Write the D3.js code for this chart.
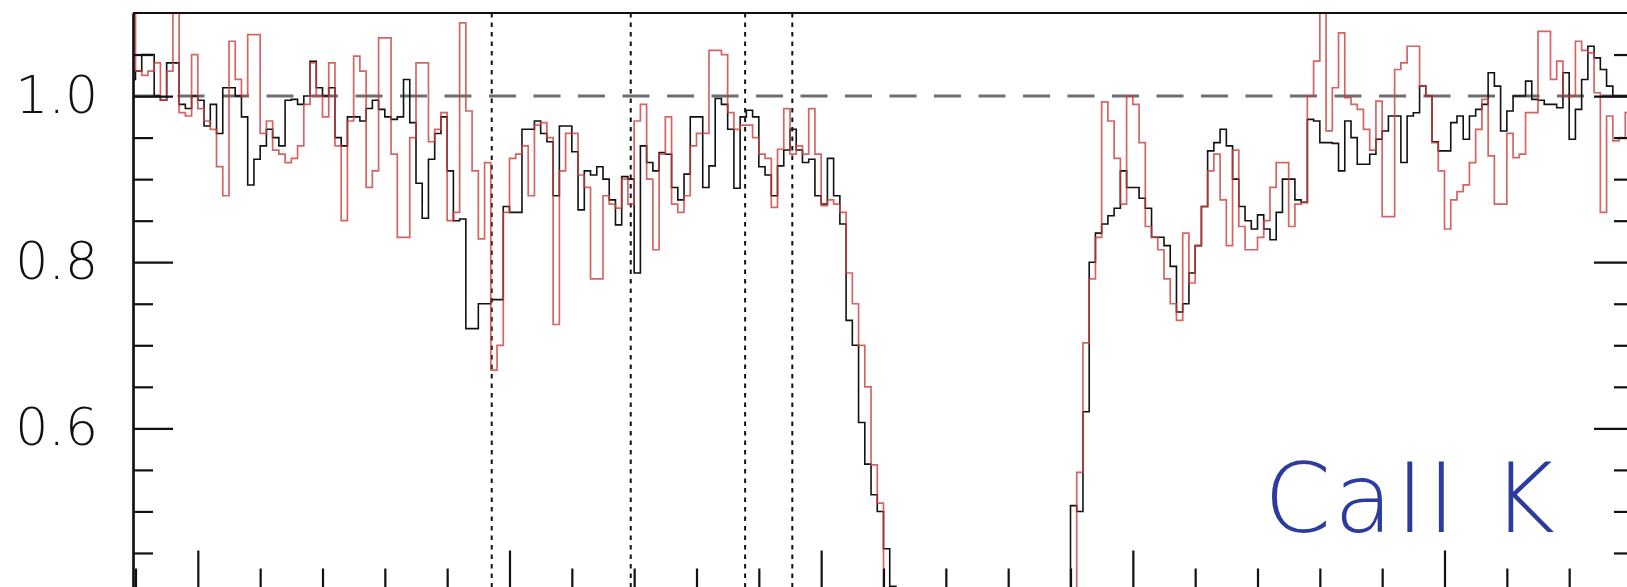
<!DOCTYPE html>
<html>
<head>
<meta charset="utf-8">
<script src="https://cdn.jsdelivr.net/npm/d3@7"></script>
<style>
  body { margin: 0; background: #fff; }
  svg { display: block; }
</style>
</head>
<body>
<div id="chart"></div>
<script>
// Ca II K profile, two step spectra (black / red), normalised flux
// bins start at x = -1.1, width 0.1 (arbitrary units, 1 unit per minor tick)
const BIN_START = -1.1
const BIN_WIDTH = 0.1

const blackFlux = [
  1.02, 1.03, 1.05, 1.05, 1.0, 0.995, 1.04, 1.04, 0.99, 0.985,            // 0-9
  1.0, 0.995, 0.964, 0.99, 0.955, 1.01, 1.01, 1.0, 0.975, 0.893,          // 10-19
  0.924, 0.94, 0.96, 0.95, 0.94, 0.995, 0.996, 0.99, 1.0, 1.042,          // 20-29
  1.01, 1.0, 1.01, 0.95, 0.94, 0.975, 0.975, 0.97, 0.985, 0.995,          // 30-39
  0.984, 0.975, 0.972, 0.975, 1.02, 0.968, 0.895, 0.853, 0.924, 0.955,    // 40-49
  0.975, 0.91, 0.85, 0.852, 0.72, 0.72, 0.75, 0.75, 0.755, 0.755,         // 50-59
  0.867, 0.86, 0.86, 0.96, 0.96, 0.97, 0.955, 0.945, 0.88, 0.964,         // 60-69
  0.964, 0.933, 0.863, 0.91, 0.905, 0.915, 0.9, 0.875, 0.845, 0.903,      // 70-79
  0.90, 0.787, 0.94, 0.92, 0.91, 0.932, 0.93, 0.89, 0.875, 0.906,         // 80-89
  0.975, 0.975, 0.89, 0.916, 0.997, 0.99, 0.96, 0.889, 0.975, 0.983,      // 90-99
  0.975, 0.915, 0.905, 0.88, 0.916, 0.935, 0.96, 0.935, 0.92, 0.924,      // 100-109
  0.88, 0.87, 0.925, 0.88, 0.846, 0.73, 0.70, 0.607, 0.557, 0.52,         // 110-119
  0.50, 0.455, 0.41, 0.36, 0.33, 0.31, 0.30, 0.29, 0.30, 0.28,            // 120-129
  0.29, 0.30, 0.31, 0.29, 0.28, 0.30, 0.29, 0.30, 0.31, 0.29,             // 130-139
  0.30, 0.28, 0.29, 0.30, 0.30, 0.31, 0.32, 0.33, 0.35, 0.37,             // 140-149
  0.39, 0.507, 0.50, 0.62, 0.80, 0.835, 0.846, 0.856, 0.865, 0.91,        // 150-159
  0.89, 0.89, 0.877, 0.865, 0.83, 0.83, 0.82, 0.795, 0.74, 0.75,          // 160-169
  0.787, 0.82, 0.867, 0.934, 0.944, 0.96, 0.94, 0.90, 0.867, 0.85,        // 170-179
  0.84, 0.857, 0.84, 0.827, 0.86, 0.90, 0.90, 0.875, 0.872, 0.972,        // 180-189
  0.97, 0.944, 0.944, 0.943, 0.91, 0.97, 0.95, 0.918, 0.918, 0.93,        // 190-199
  0.948, 0.958, 0.976, 0.976, 0.92, 0.976, 0.98, 1.012, 1.0, 0.945,       // 200-209
  0.934, 0.934, 0.968, 0.976, 0.948, 0.976, 0.984, 0.99, 1.028, 1.012,    // 210-219
  0.958, 0.982, 1.0, 1.0, 1.018, 0.996, 0.995, 0.99, 0.99, 0.986,         // 220-229
  1.028, 0.948, 0.984, 1.02, 1.06, 1.046, 1.032, 1.012, 1.0, 1.0,         // 230-239
  1.0, 1.0                                                                // 240-241
]

const redFlux = [
  1.10, 1.03, 1.025, 1.03, 1.04, 0.995, 1.03, 1.10, 0.98, 0.976,          // 0-9
  1.05, 0.985, 0.97, 0.96, 0.915, 0.88, 1.066, 1.02, 1.0, 1.074,          // 10-19
  1.074, 0.955, 0.97, 0.935, 0.93, 0.92, 0.925, 0.94, 0.99, 1.04,         // 20-29
  1.0, 0.975, 1.04, 0.94, 0.85, 0.97, 1.048, 1.03, 0.89, 0.91,            // 30-39
  1.07, 1.07, 0.93, 0.83, 0.83, 0.95, 1.04, 1.04, 0.945, 0.96,            // 40-49
  0.98, 0.85, 0.86, 1.088, 0.982, 0.91, 0.828, 0.92, 0.67, 0.70,          // 50-59
  0.86, 0.925, 0.93, 0.94, 0.88, 0.965, 0.968, 0.95, 0.725, 0.91,         // 60-69
  0.955, 0.955, 0.905, 0.89, 0.78, 0.78, 0.88, 0.87, 0.865, 0.90,         // 70-79
  0.87, 0.97, 0.99, 0.90, 0.815, 0.93, 0.975, 0.87, 0.86, 0.88,           // 80-89
  0.94, 0.955, 0.955, 1.055, 1.055, 1.05, 0.98, 0.96, 0.965, 0.965,       // 90-99
  0.95, 0.93, 0.925, 0.866, 0.936, 0.985, 0.93, 0.94, 0.93, 0.985,        // 100-109
  0.93, 0.868, 0.875, 0.87, 0.86, 0.787, 0.75, 0.70, 0.65, 0.556,         // 110-119
  0.51, 0.38, 0.34, 0.31, 0.30, 0.29, 0.30, 0.28, 0.29, 0.30,             // 120-129
  0.31, 0.29, 0.28, 0.30, 0.29, 0.30, 0.31, 0.29, 0.30, 0.28,             // 130-139
  0.29, 0.30, 0.30, 0.31, 0.32, 0.30, 0.29, 0.31, 0.33, 0.34,             // 140-149
  0.36, 0.38, 0.547, 0.703, 0.78, 0.83, 0.993, 0.97, 0.925, 0.87,         // 150-159
  1.0, 0.99, 0.944, 0.843, 0.83, 0.815, 0.78, 0.75, 0.73, 0.835,          // 160-169
  0.775, 0.82, 0.867, 0.91, 0.93, 0.875, 0.82, 0.935, 0.843, 0.815,       // 170-179
  0.815, 0.83, 0.85, 0.89, 0.92, 0.92, 0.843, 0.87, 0.872, 1.0,           // 180-189
  1.042, 1.10, 0.958, 1.01, 1.076, 0.998, 0.99, 0.984, 0.96, 0.935,       // 190-199
  0.994, 0.855, 0.855, 1.032, 1.04, 1.06, 1.06, 1.012, 1.0, 0.944,        // 200-209
  0.91, 0.84, 0.875, 0.885, 0.893, 0.92, 0.96, 0.996, 0.928, 0.87,        // 210-219
  0.87, 0.955, 0.926, 0.93, 0.98, 0.98, 1.078, 1.078, 1.02, 1.042,        // 220-229
  1.0, 1.0, 1.066, 1.055, 1.052, 1.004, 0.86, 0.976, 0.946, 0.95,         // 230-239
  0.98, 0.98                                                              // 240-241
]

// axis ticks and reference lines
const xMajorTicks = [0, 5, 10, 15, 20]
const xMinorTicks = [-1, 1, 2, 3, 4, 6, 7, 8, 9, 11, 12, 13, 14, 16, 17, 18, 19, 21, 22, 23]
const yMajorTicks = [0.4, 0.6, 0.8, 1.0]
const yMinorTicks = [0.45, 0.5, 0.55, 0.65, 0.7, 0.75, 0.85, 0.9, 0.95, 1.05]
const yLabelTicks = [0.6, 0.8, 1.0]
const yTickLabels = ["0.6", "0.8", "1.0"]
const markerLines = [4.715, 6.945, 8.78, 9.537]
const continuum = 1.0
const label = "CaII K"

// chart geometry (plot extends past the right and bottom edge of the picture)
const WIDTH = 1627
const HEIGHT = 587
const PLOT = {LEFT:133, RIGHT:1634, TOP:13, BOTTOM:594.5}

const svg = d3.select("#chart").append("svg")
    .attr("width", WIDTH)
    .attr("height", HEIGHT)

const xScale = d3.scaleLinear()
    .domain([-1.04, 23.04])
    .range([PLOT.LEFT, PLOT.RIGHT])

const yScale = d3.scaleLinear()
    .domain([0.4, 1.1])
    .range([PLOT.BOTTOM, PLOT.TOP])

// clip the spectra to the frame
svg.append("clipPath").attr("id", "plotclip")
  .append("rect")
    .attr("x", PLOT.LEFT)
    .attr("y", PLOT.TOP)
    .attr("width", PLOT.RIGHT - PLOT.LEFT)
    .attr("height", PLOT.BOTTOM - PLOT.TOP)

// turn a flux array into step points (one extra point closes the last bin)
function toSteps(flux) {
    let pts = flux.map((v, i) => ({x: BIN_START + i * BIN_WIDTH, y: v}))
    pts.push({x: BIN_START + flux.length * BIN_WIDTH, y: flux[flux.length - 1]})
    return pts
}

const stepLine = d3.line()
    .x(d => xScale(d.x))
    .y(d => yScale(d.y))
    .curve(d3.curveStepAfter)

const plot = svg.append("g").attr("clip-path", "url(#plotclip)")

// continuum level
plot.append("line")
    .attr("x1", PLOT.LEFT).attr("x2", PLOT.RIGHT)
    .attr("y1", yScale(continuum)).attr("y2", yScale(continuum))
    .attr("stroke", "#6e6e6e")
    .attr("stroke-width", 3)
    .attr("stroke-dasharray", "27,17.5")

// dotted marker lines
plot.selectAll(".marker")
    .data(markerLines)
    .enter().append("line")
      .attr("class", "marker")
      .attr("x1", d => xScale(d)).attr("x2", d => xScale(d))
      .attr("y1", PLOT.TOP).attr("y2", PLOT.BOTTOM)
      .attr("stroke", "#111")
      .attr("stroke-width", 2)
      .attr("stroke-dasharray", "4.5,5")

plot.append("path")
    .datum(toSteps(blackFlux))
    .attr("d", stepLine)
    .attr("fill", "none")
    .attr("stroke", "#111")
    .attr("stroke-width", 1.6)

plot.append("path")
    .datum(toSteps(redFlux))
    .attr("d", stepLine)
    .attr("fill", "none")
    .attr("stroke", "#cc3d3d")
    .attr("stroke-width", 1.7)
    .attr("stroke-opacity", 0.8)

// axes: ticks point inwards
function styleAxis(g) {
    g.selectAll("path, line").attr("stroke", "#111").attr("stroke-width", 2.2)
}

svg.append("g")
    .attr("transform", `translate(${PLOT.LEFT},0)`)
    .call(d3.axisLeft(yScale).tickValues(yMajorTicks).tickSize(-40).tickSizeOuter(0).tickFormat(""))
    .call(styleAxis)

// tick labels only where the picture shows them
svg.append("g")
    .attr("transform", `translate(${PLOT.LEFT},0)`)
    .call(d3.axisLeft(yScale).tickValues(yLabelTicks).tickSize(0).tickPadding(35)
        .tickFormat((d, i) => yTickLabels[i]))
    .call(g => g.select(".domain").remove())
    .call(g => g.selectAll("text")
        .attr("fill", "#111")
        .style("font-family", "'DejaVu Sans', sans-serif")
        .style("font-weight", 200)
        .style("font-size", "52px"))

svg.append("g")
    .attr("transform", `translate(${PLOT.LEFT},0)`)
    .call(d3.axisLeft(yScale).tickValues(yMinorTicks).tickSize(-20).tickSizeOuter(0).tickFormat(""))
    .call(styleAxis)

svg.append("g")
    .attr("transform", `translate(${PLOT.RIGHT},0)`)
    .call(d3.axisRight(yScale).tickValues(yMajorTicks).tickSize(-40).tickSizeOuter(0).tickFormat(""))
    .call(styleAxis)

svg.append("g")
    .attr("transform", `translate(${PLOT.RIGHT},0)`)
    .call(d3.axisRight(yScale).tickValues(yMinorTicks).tickSize(-20).tickSizeOuter(0).tickFormat(""))
    .call(styleAxis)

svg.append("g")
    .attr("transform", `translate(0,${PLOT.BOTTOM})`)
    .call(d3.axisBottom(xScale).tickValues(xMajorTicks).tickSize(-44).tickSizeOuter(0).tickFormat(""))
    .call(styleAxis)

svg.append("g")
    .attr("transform", `translate(0,${PLOT.BOTTOM})`)
    .call(d3.axisBottom(xScale).tickValues(xMinorTicks).tickSize(-26).tickSizeOuter(0).tickFormat(""))
    .call(styleAxis)

// top frame line
svg.append("line")
    .attr("x1", PLOT.LEFT).attr("x2", PLOT.RIGHT)
    .attr("y1", PLOT.TOP).attr("y2", PLOT.TOP)
    .attr("stroke", "#111")
    .attr("stroke-width", 2.2)

// line label
svg.append("text")
    .attr("x", 1264)
    .attr("y", 532)
    .attr("fill", "#2b3c9e")
    .style("font-family", "'DejaVu Sans', sans-serif")
    .style("font-weight", 200)
    .style("font-size", "96px")
    .style("letter-spacing", "3px")
    .text(label)
</script>
</body>
</html>
